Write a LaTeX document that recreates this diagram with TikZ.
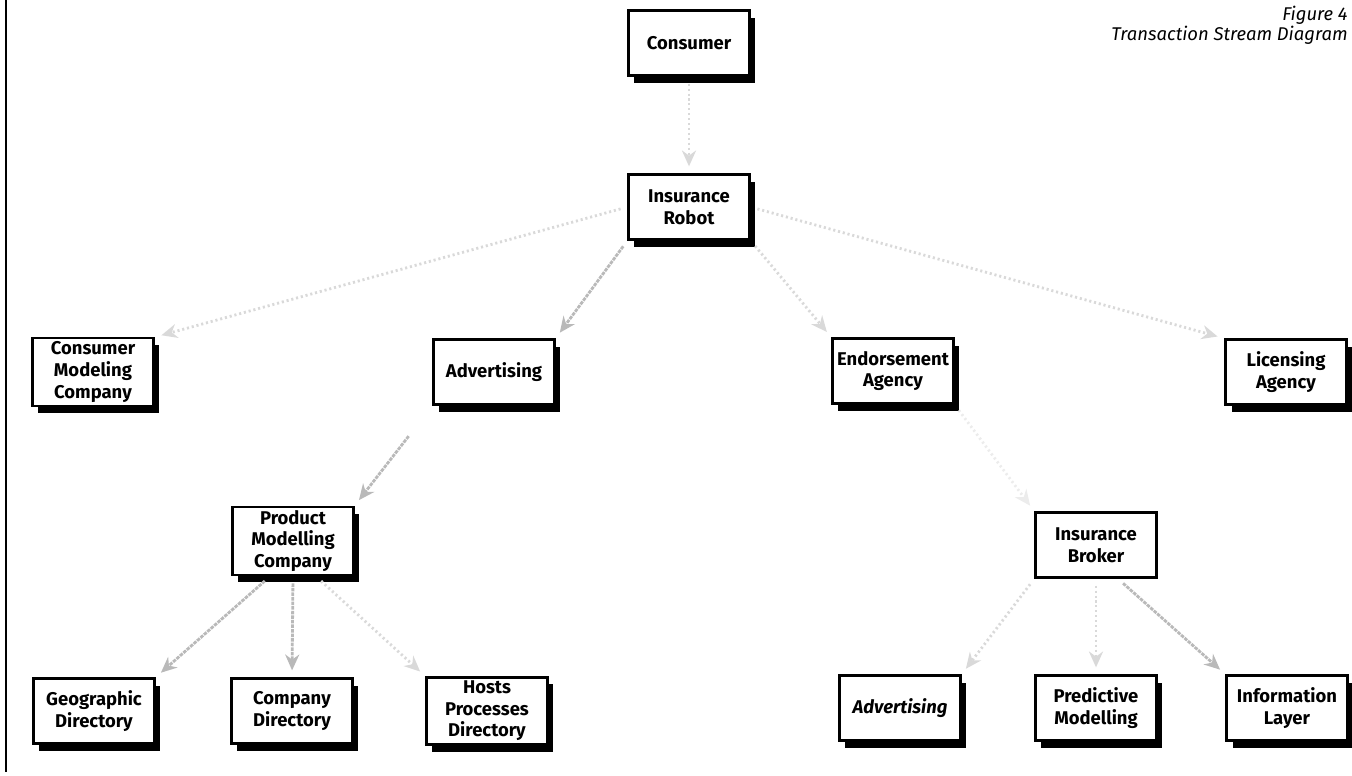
\documentclass[tikz,border=0pt]{standalone}
\usepackage{fontspec}
\setmainfont{Fira Sans}
\usetikzlibrary{arrows.meta,shadows}

\tikzset{
  boxbase/.style={draw, line width=1.3pt, fill=white, align=center,
    font=\bfseries\fontsize{10.5}{12.3}\selectfont,
    minimum width=2.42cm, minimum height=1.3cm, inner sep=2pt},
  box/.style={boxbase, drop shadow={shadow xshift=3.4pt, shadow yshift=-4pt, fill=black, opacity=1}},
  flow/.style={draw=gray!55, line width=1.6pt, dash pattern=on 2pt off 0.6pt,
    -{Stealth[length=9pt,width=8pt]}, shorten >=4pt, shorten <=4pt},
  faintflow/.style={flow, draw=gray!30, dash pattern=on 1.2pt off 1.6pt},
  caption/.style={align=right, font=\itshape\fontsize{10.5}{11.4}\selectfont, inner sep=0pt}
}

\begin{document}
\begin{tikzpicture}[x=0.02cm,y=-0.02cm]
\useasboundingbox (0,0) rectangle (1352,775);

\draw[line width=0.8pt] (6,0) -- (6,772);

\node[caption, anchor=north east] (fig) at (1348,6) {Figure 4\\Transaction Stream Diagram};

\node[box] (consumer) at (689,43) {Consumer};
\node[box] (robot) at (689,207) {Insurance\\Robot};

\node[box] (cmc) at (93,372) {Consumer\\Modeling\\Company};
\node[box] (adv) at (494,372) {Advertising};
\node[box] (endorse) at (893,371) {Endorsement\\Agency};
\node[box] (licensing) at (1286,372) {Licensing\\Agency};

\node[box] (pmc) at (293,541) {Product\\Modelling\\Company};
\node[boxbase] (broker) at (1096,545) {Insurance\\Broker};

\node[box] (geo) at (94,711) {Geographic\\Directory};
\node[box] (compdir) at (292,711) {Company\\Directory};
\node[box] (hosts) at (487,711) {Hosts\\Processes\\Directory};
\node[box, font=\bfseries\itshape\fontsize{10.5}{12.3}\selectfont] (adv2) at (900,708) {Advertising};
\node[box] (predict) at (1096,708) {Predictive\\Modelling};
\node[box] (info) at (1287,708) {Information\\Layer};

\draw[faintflow] (consumer) -- (robot);
\draw[faintflow] (robot.west) -- (cmc.north east);
\draw[flow] (robot.south west) -- (adv.north east);
\draw[faintflow] (robot.south east) -- (endorse.north west);
\draw[faintflow] (robot.east) -- (licensing.north west);

\draw[flow, shorten <=22pt] (adv.south west) -- (pmc.north east);
\draw[faintflow, draw=gray!15] (endorse.south east) -- (broker.north west);

\draw[flow] (pmc.237) -- (geo.north east);
\draw[flow] (pmc.south) -- (compdir.north);
\draw[faintflow] (pmc.-57) -- (hosts.north west);

\draw[faintflow] (broker.south west) -- (adv2.north east);
\draw[faintflow] (broker.south) -- (predict.north);
\draw[flow] (broker.-57) -- (info.north west);
\end{tikzpicture}
\end{document}
